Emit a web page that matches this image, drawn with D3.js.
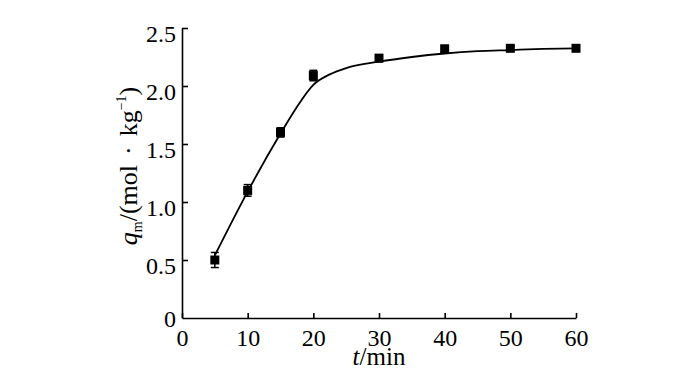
<!DOCTYPE html>
<html>
<head>
<meta charset="utf-8">
<script src="https://cdn.jsdelivr.net/npm/d3@7"></script>
<style>
  body { margin: 0; background: #fff; }
  text { font-family: "Liberation Serif", "Times New Roman", serif; fill: #000; }
</style>
</head>
<body>
<svg id="plot"></svg>
<script>
// measured points
var tPts = [5, 10, 15, 20, 30, 40, 50, 60];
var qPts = [0.50, 1.10, 1.60, 2.09, 2.24, 2.32, 2.325, 2.325];
var qErr = [0.065, 0.05, 0.04, 0.045, 0.03, 0.03, 0.02, 0.02];

// fitted curve
var tFit = [5, 10, 15, 17.5, 20, 22.5, 25, 30, 35, 40, 45, 50, 55, 60];
var qFit = [0.54, 1.09, 1.59, 1.82, 2.01, 2.10, 2.155, 2.21, 2.25, 2.28, 2.30, 2.31, 2.32, 2.325];

var xTicks = [0, 10, 20, 30, 40, 50, 60];
var yTicks = [0.5, 1.0, 1.5, 2.0, 2.5];

var svg = d3.select("#plot").attr("width", 700).attr("height", 370);

var margin = {top: 28, left: 182, right: 124, bottom: 52},
  width = 700 - margin.left - margin.right,
  height = 370 - margin.top - margin.bottom;

var g = svg.append("g")
  .attr("transform", "translate(" + margin.left + "," + margin.top + ")");

var x = d3.scaleLinear().domain([0, 60]).range([0, width]);
var y = d3.scaleLinear().domain([0, 2.5]).range([height, 0]);

// x axis, ticks inward
var xAxis = g.append("g")
  .attr("transform", "translate(0," + height + ")")
  .call(d3.axisBottom(x).tickValues(xTicks).tickSize(-5).tickPadding(0).tickSizeOuter(0));
xAxis.selectAll("text").attr("font-size", 24).attr("dy", null).attr("y", 28);

// y axis, ticks inward
var yAxis = g.append("g")
  .call(d3.axisLeft(y).tickValues(yTicks).tickFormat(d3.format(".1f")).tickSize(-6).tickPadding(5).tickSizeOuter(0));
yAxis.selectAll("text").attr("font-size", 24).attr("x", -6).attr("dy", null).attr("y", 13);

// lone 0 at the origin
g.append("text")
  .attr("x", -6).attr("y", height + 9)
  .attr("text-anchor", "end")
  .attr("font-size", 24).text("0");

g.selectAll(".domain, .tick line").attr("stroke", "#000").attr("stroke-width", 1.6);

// fitted curve
var line = d3.line()
  .x(function(d, i){ return x(tFit[i]) })
  .y(function(d){ return y(d) })
  .curve(d3.curveMonotoneX);
g.append("path")
  .datum(qFit)
  .attr("d", line)
  .attr("fill", "none")
  .attr("stroke", "#000")
  .attr("stroke-width", 1.8);

// error bars
var eb = g.selectAll(".eb").data(qPts).enter().append("g");
eb.append("line")
  .attr("x1", function(d, i){ return x(tPts[i]) })
  .attr("x2", function(d, i){ return x(tPts[i]) })
  .attr("y1", function(d, i){ return y(d - qErr[i]) })
  .attr("y2", function(d, i){ return y(d + qErr[i]) })
  .attr("stroke", "#000").attr("stroke-width", 1.5);
eb.append("line")
  .attr("x1", function(d, i){ return x(tPts[i]) - 4 })
  .attr("x2", function(d, i){ return x(tPts[i]) + 4 })
  .attr("y1", function(d, i){ return y(d - qErr[i]) })
  .attr("y2", function(d, i){ return y(d - qErr[i]) })
  .attr("stroke", "#000").attr("stroke-width", 1.5);
eb.append("line")
  .attr("x1", function(d, i){ return x(tPts[i]) - 4 })
  .attr("x2", function(d, i){ return x(tPts[i]) + 4 })
  .attr("y1", function(d, i){ return y(d + qErr[i]) })
  .attr("y2", function(d, i){ return y(d + qErr[i]) })
  .attr("stroke", "#000").attr("stroke-width", 1.5);

// square markers
g.selectAll(".pt").data(qPts).enter().append("rect")
  .attr("x", function(d, i){ return x(tPts[i]) - 4.5 })
  .attr("y", function(d){ return y(d) - 4.5 })
  .attr("width", 9).attr("height", 9)
  .attr("fill", "#000");

// axis titles
var xl = svg.append("text")
  .attr("x", 379).attr("y", 365)
  .attr("text-anchor", "middle").attr("font-size", 25);
xl.append("tspan").attr("font-style", "italic").text("t");
xl.append("tspan").text("/min");

var yl = svg.append("text")
  .attr("transform", "translate(137,166) rotate(-90)")
  .attr("text-anchor", "middle").attr("font-size", 26);
yl.append("tspan").attr("font-style", "italic").text("q");
yl.append("tspan").attr("font-size", 14).attr("dy", 5).text("m");
yl.append("tspan").attr("dy", -5).text("/(mol");
yl.append("tspan").attr("dx", 10).text("\u00b7");
yl.append("tspan").attr("dx", 10).text("kg");
yl.append("tspan").attr("font-size", 14).attr("dy", -11).text("\u22121");
yl.append("tspan").attr("dy", 11).text(")");
</script>
</body>
</html>
